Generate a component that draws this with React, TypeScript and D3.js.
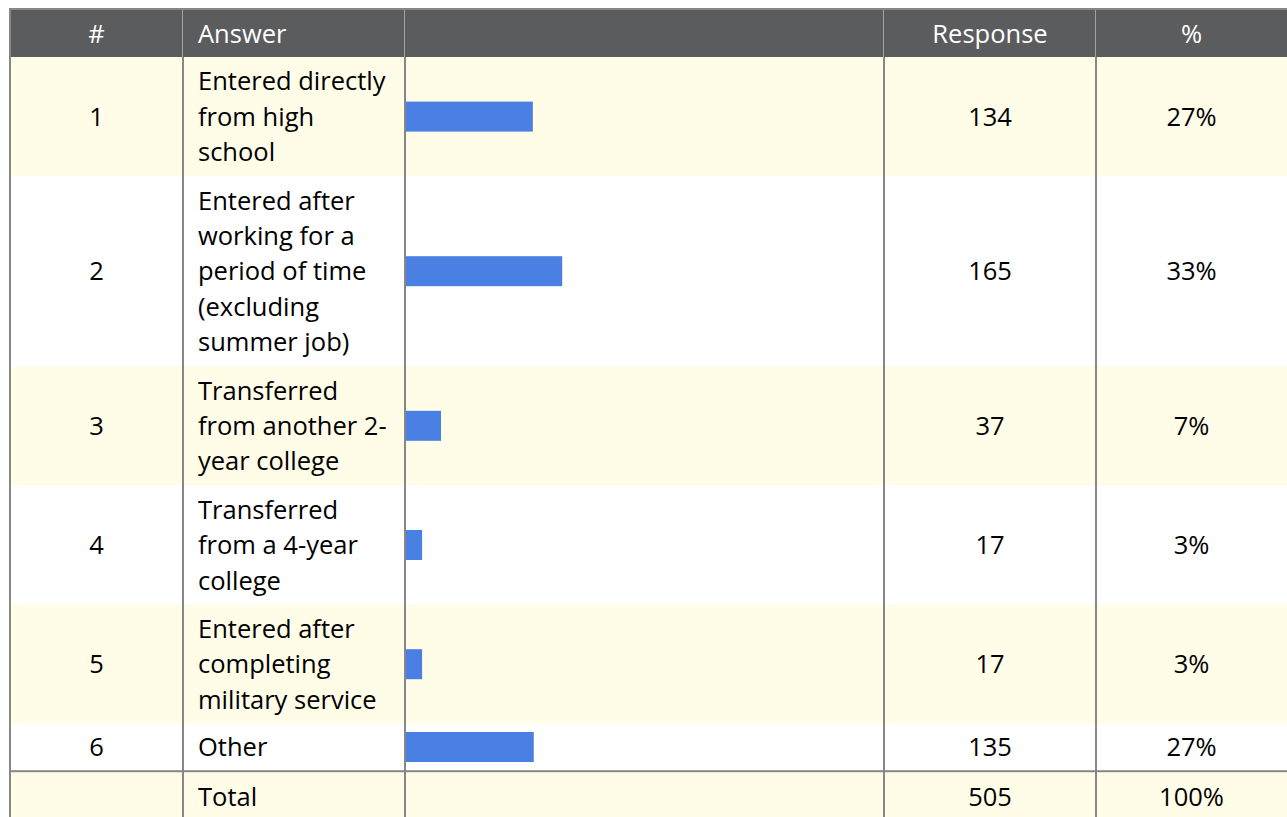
import React, { useEffect, useRef } from 'react';
import * as d3 from 'd3';

// table contents
const headers = ['#', 'Answer', '', 'Response', '%'];
const rowNumbers = ['1', '2', '3', '4', '5', '6'];
const answers = [
  ['Entered directly', 'from high', 'school'],
  ['Entered after', 'working for a', 'period of time', '(excluding', 'summer job)'],
  ['Transferred', 'from another 2-', 'year college'],
  ['Transferred', 'from a 4-year', 'college'],
  ['Entered after', 'completing', 'military service'],
  ['Other'],
];
const responses = [134, 165, 37, 17, 17, 135];
const percents = ['27%', '33%', '7%', '3%', '3%', '27%'];
const totalLabel = 'Total';
const totalResponse = 505;
const totalPercent = '100%';

const W = 1287;
const H = 817;

const App = () => {
  const ref = useRef<SVGSVGElement>(null);

  useEffect(() => {
    const svg = d3.select(ref.current);
    svg.selectAll('*').remove();

    const font = '"Open Sans", sans-serif';
    const fontSize = 25.5;
    const capShift = fontSize * 0.357; // baseline offset so caps sit centered
    const lineH = 35.4;
    const pad = 13;
    const headerH = 47;
    const top = 10;
    // column edges
    const cols = [10, 183, 405, 884, 1096, 1287];
    const yellow = '#fffce8';
    const grid = '#878787';

    // row layout from number of text lines
    const rows = answers.map((lines, i) => ({
      num: rowNumbers[i],
      lines,
      value: responses[i],
      pct: percents[i],
      h: lines.length * lineH + pad,
      y: 0,
    }));
    let y = top + headerH;
    rows.forEach((r) => {
      r.y = y;
      y += r.h;
    });
    const totalY = y;
    const totalH = lineH + pad;

    const x = d3.scaleLinear().domain([0, totalResponse]).range([0, cols[3] - cols[2] - 1]);

    // header
    svg.append('rect').attr('x', 9).attr('y', 8).attr('width', W).attr('height', 2).attr('fill', grid);
    svg.append('rect').attr('x', cols[0]).attr('y', top).attr('width', W - cols[0]).attr('height', headerH).attr('fill', '#5b5c5e');

    // body backgrounds
    const g = svg.append('g');
    g.selectAll('rect.bg')
      .data(rows)
      .join('rect')
      .attr('class', 'bg')
      .attr('x', cols[0])
      .attr('y', (d) => d.y)
      .attr('width', W - cols[0])
      .attr('height', (d) => d.h)
      .attr('fill', (d, i) => (i % 2 === 0 ? yellow : '#ffffff'));

    svg.append('rect').attr('x', cols[0]).attr('y', totalY).attr('width', W - cols[0]).attr('height', totalH).attr('fill', yellow);
    svg.append('rect').attr('x', 9).attr('y', totalY - 2).attr('width', W).attr('height', 2).attr('fill', grid);

    // bars
    const barH = 30;
    g.selectAll('rect.bar')
      .data(rows)
      .join('rect')
      .attr('class', 'bar')
      .attr('x', cols[2] + 1)
      .attr('y', (d) => d.y + (d.h - (d.lines.length === 1 ? 2 : 0)) / 2 - barH / 2)
      .attr('width', (d) => x(d.value))
      .attr('height', barH)
      .attr('fill', '#4a80e3');

    // vertical grid lines
    svg.append('rect').attr('x', 9).attr('y', 8).attr('width', 2).attr('height', H).attr('fill', grid);
    cols.slice(1, 5).forEach((cx) => {
      svg.append('rect').attr('x', cx - 1).attr('y', top).attr('width', 1).attr('height', headerH).attr('fill', '#a3a3a3');
      svg.append('rect').attr('x', cx - 1).attr('y', top + headerH).attr('width', 2).attr('height', H).attr('fill', grid);
    });

    const text = svg.append('g').attr('font-family', font).attr('font-size', fontSize);

    // header labels
    const headerX = [
      (cols[0] + cols[1]) / 2,
      cols[1] + 15,
      (cols[2] + cols[3]) / 2,
      (cols[3] + cols[4]) / 2,
      (cols[4] + cols[5]) / 2,
    ];
    headers.forEach((h, i) => {
      text.append('text')
        .attr('x', headerX[i])
        .attr('y', top + headerH / 2 + capShift)
        .attr('text-anchor', i === 1 ? 'start' : 'middle')
        .attr('fill', '#ffffff')
        .text(h);
    });

    // body text
    rows.forEach((r, i) => {
      const hh = i === rows.length - 1 ? r.h - 2 : r.h;
      const cy = r.y + hh / 2 + capShift;
      text.append('text').attr('x', headerX[0]).attr('y', cy).attr('text-anchor', 'middle').text(r.num);
      r.lines.forEach((line, j) => {
        text.append('text')
          .attr('x', cols[1] + 15)
          .attr('y', r.lines.length === 1 ? cy : r.y + pad / 2 + lineH * (j + 0.5) + capShift)
          .text(line);
      });
      text.append('text').attr('x', headerX[3]).attr('y', cy).attr('text-anchor', 'middle').text(r.value);
      text.append('text').attr('x', headerX[4]).attr('y', cy).attr('text-anchor', 'middle').text(r.pct);
    });

    // total row
    const ty = totalY + totalH / 2 + capShift;
    text.append('text').attr('x', cols[1] + 15).attr('y', ty).text(totalLabel);
    text.append('text').attr('x', headerX[3]).attr('y', ty).attr('text-anchor', 'middle').text(totalResponse);
    text.append('text').attr('x', headerX[4]).attr('y', ty).attr('text-anchor', 'middle').text(totalPercent);
  }, []);

  return (
    <svg
      ref={ref}
      width={W}
      height={H}
      style={{ position: 'absolute', left: 0, top: 0, display: 'block', background: '#ffffff' }}
    />
  );
};

export default App;
